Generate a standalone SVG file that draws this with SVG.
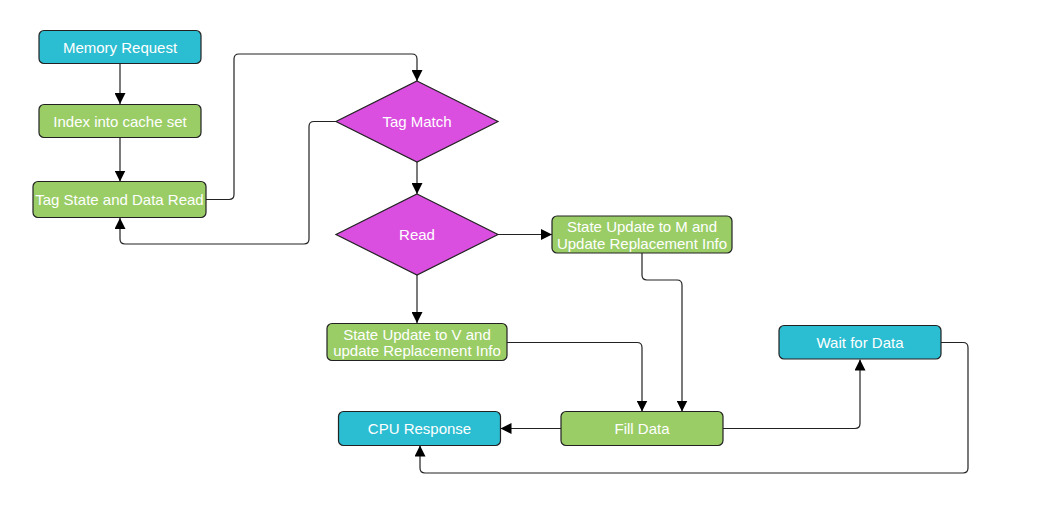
<svg xmlns="http://www.w3.org/2000/svg" width="1040" height="518" viewBox="0 0 1040 518">
<style>
.n{stroke:#222;stroke-width:1.2}
.c{fill:#2BBDD1}
.g{fill:#9ACD66}
.m{fill:#DA4EE0}
text{font-family:"Liberation Sans",Arial,sans-serif;font-size:15px;fill:#fff;text-anchor:middle;dominant-baseline:central}
.e{fill:none;stroke:#222;stroke-width:1.2;marker-end:url(#a)}
</style>
<defs>
<marker id="a" viewBox="0 0 10 10" refX="10" refY="5" markerWidth="11" markerHeight="11" markerUnits="userSpaceOnUse" orient="auto"><path d="M0,0 L10,5 L0,10 z" fill="#000"/></marker>
</defs>
<rect width="1040" height="518" fill="#fff"/>
<g id="connectors">
<path class="e" d="M120,63.5 V104"/>
<path class="e" d="M120,138 V181.5"/>
<path class="e" d="M206,199.5 H229 Q234,199.5 234,194.5 V59 Q234,54 239,54 H412 Q417,54 417,59 V81"/>
<path class="e" d="M336,121.5 H314 Q309,121.5 309,126.5 V239 Q309,244 304,244 H125 Q120,244 120,239 V218"/>
<path class="e" d="M417,162 V194"/>
<path class="e" d="M498,234.5 H552"/>
<path class="e" d="M417,275 V323"/>
<path class="e" d="M507,342.5 H637 Q642,342.5 642,347.5 V411.5"/>
<path class="e" d="M642,253 V275 Q642,280 647,280 H677 Q682,280 682,285 V411.5"/>
<path class="e" d="M561,428.5 H500.5"/>
<path class="e" d="M723,428.5 H855 Q860,428.5 860,423.5 V359.5"/>
<path class="e" d="M941,342.5 H963 Q968,342.5 968,347.5 V468 Q968,473 963,473 H425 Q420,473 420,468 V445.5"/>
</g>
<g id="memory-request"><rect class="n c" x="39" y="30.5" width="162" height="33" rx="5"/><text x="120" y="47">Memory Request</text></g>
<g id="index-cache-set"><rect class="n g" x="39" y="104.5" width="162" height="33" rx="5"/><text x="120" y="121">Index into cache set</text></g>
<g id="tag-state-read"><rect class="n g" x="33" y="181.5" width="173" height="36" rx="5"/><text x="119.5" y="199.5">Tag State and Data Read</text></g>
<g id="tag-match"><polygon class="n m" points="417,81 498,121.5 417,162 336,121.5"/><text x="417" y="121.5">Tag Match</text></g>
<g id="read"><polygon class="n m" points="417,194 498,234.5 417,275 336,234.5"/><text x="417" y="234.5">Read</text></g>
<g id="state-update-m"><rect class="n g" x="552" y="216" width="180" height="37" rx="5"/><text x="642" y="226.5">State Update to M and</text><text x="642" y="243">Update Replacement Info</text></g>
<g id="state-update-v"><rect class="n g" x="327" y="323.5" width="180" height="37" rx="5"/><text x="417" y="334">State Update to V and</text><text x="417" y="350.5">update Replacement Info</text></g>
<g id="wait-for-data"><rect class="n c" x="779" y="325.5" width="162" height="33.5" rx="5"/><text x="860" y="342.5">Wait for Data</text></g>
<g id="cpu-response"><rect class="n c" x="338.5" y="411.5" width="162" height="34" rx="5"/><text x="419.5" y="428.5">CPU Response</text></g>
<g id="fill-data"><rect class="n g" x="561" y="411.5" width="162" height="34" rx="5"/><text x="642" y="428.5">Fill Data</text></g>
</svg>
